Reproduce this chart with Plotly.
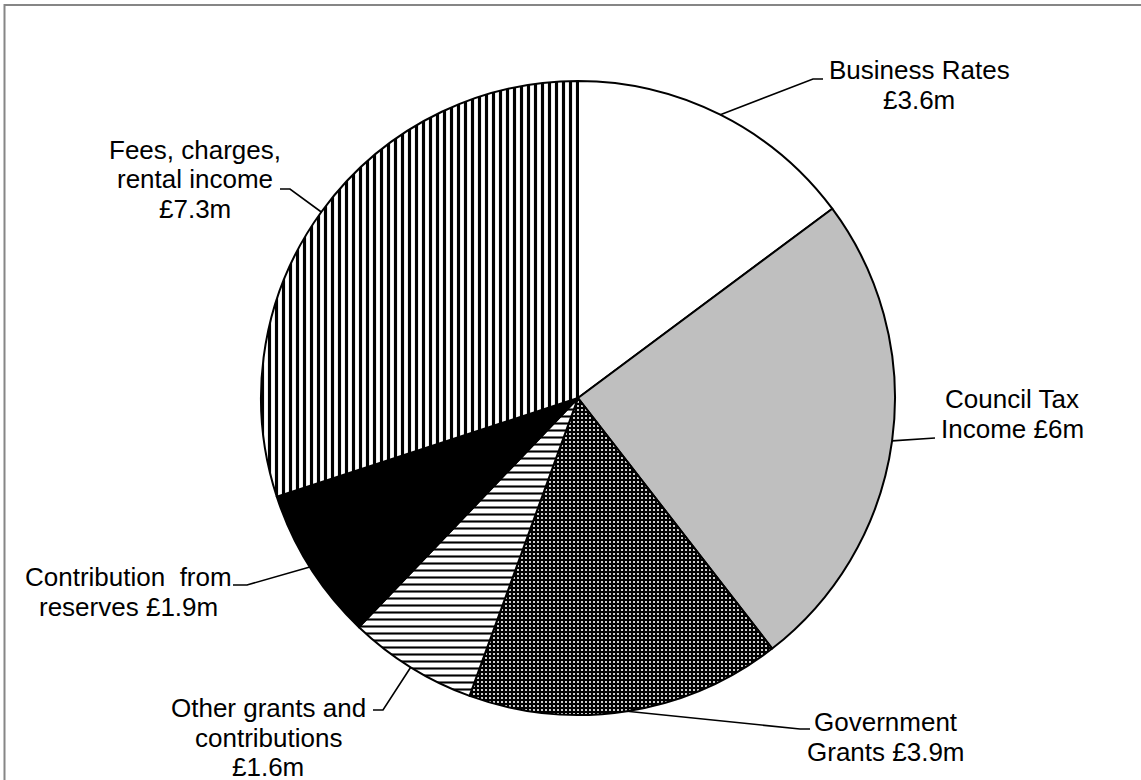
import math
import plotly.graph_objects as go

# ---------------- data ----------------
categories = ["Business Rates", "Council Tax Income", "Government Grants",
              "Other grants and contributions", "Contribution from reserves",
              "Fees, charges, rental income"]
values = [3.6, 6.0, 3.9, 1.6, 1.9, 7.3]
label_lines = [
    ["Business Rates", "£3.6m"],
    ["Council Tax", "Income £6m"],
    ["Government", "Grants £3.9m"],
    ["Other grants and", "contributions", "£1.6m"],
    ["Contribution  from", "reserves £1.9m"],
    ["Fees, charges,", "rental income", "£7.3m"],
]

# ---------------- styles ----------------
W, H = 1141, 780
CX, CY, R = 578, 398, 317          # pie centre / radius in pixels
FONT = "Liberation Sans, Arial, sans-serif"
FS = 26
LINE_H = 29.5

bg_colors = ["#FFFFFF", "#BFBFBF", "#000000", "#FFFFFF", "#000000", "#FFFFFF"]
fg_colors = ["#000000", "#000000", "#FFFFFF", "#000000", "#000000", "#000000"]
shapes_p = ["", "", ".", "-", "", "|"]
sizes_p = [8, 8, 4, 7, 8, 7]
solid_p = [0.3, 0.3, 0.22, 0.3, 0.3, 0.45]

# label layout: (centre x, first-line y) in pixels
label_pos = [(919, 70), (1012, 399), (886, 722), (268, 708), (128, 577), (195, 150)]
# leader layout: elbow point and label-side end point in pixels
leader_elbow = [(813, 79), (935, 438), (800, 729), (383, 710), (247, 585), (290, 189)]
leader_end = [(823, 79), (935, 438), (810, 729), (373, 710), (233, 585), (280, 189)]


def px(x):
    return x / W


def py(y):
    return 1 - y / H


fig = go.Figure()
fig.add_trace(go.Pie(
    labels=categories, values=values, sort=False, direction="clockwise",
    rotation=0, textinfo="none", hoverinfo="label+value", showlegend=False,
    domain=dict(x=[px(CX - R), px(CX + R)], y=[py(CY + R), py(CY - R)]),
    marker=dict(colors=bg_colors, line=dict(color="#000000", width=2),
                pattern=dict(shape=shapes_p, bgcolor=bg_colors, fgcolor=fg_colors,
                             size=sizes_p, solidity=solid_p, fillmode="replace")),
))

shapes = []
annotations = []
total = sum(values)
cum = 0.0
for i, v in enumerate(values):
    mid = (cum + v / 2) / total * 2 * math.pi
    cum += v
    ex = CX + R * math.sin(mid)
    ey = CY - R * math.cos(mid)
    bx, by = leader_elbow[i]
    tx, ty = leader_end[i]
    path = f"M {px(ex)},{py(ey)} L {px(bx)},{py(by)} L {px(tx)},{py(ty)}"
    shapes.append(dict(type="path", xref="paper", yref="paper", path=path,
                       line=dict(color="#000000", width=1.6)))
    lx, ly = label_pos[i]
    for k, line in enumerate(label_lines[i]):
        annotations.append(dict(
            x=px(lx), y=py(ly + k * LINE_H), xref="paper", yref="paper",
            text=line, showarrow=False, xanchor="center", yanchor="middle",
            font=dict(family=FONT, size=FS, color="#000000")))

# outer frame
shapes.append(dict(type="rect", xref="paper", yref="paper",
                   x0=px(4.5), x1=px(W + 10), y0=py(H + 10), y1=py(5),
                   line=dict(color="#868686", width=2), fillcolor="rgba(0,0,0,0)"))

fig.update_layout(
    width=W, height=H, margin=dict(l=0, r=0, t=0, b=0),
    paper_bgcolor="#FFFFFF", plot_bgcolor="#FFFFFF",
    shapes=shapes, annotations=annotations,
)

fig.write_html("out.html")
